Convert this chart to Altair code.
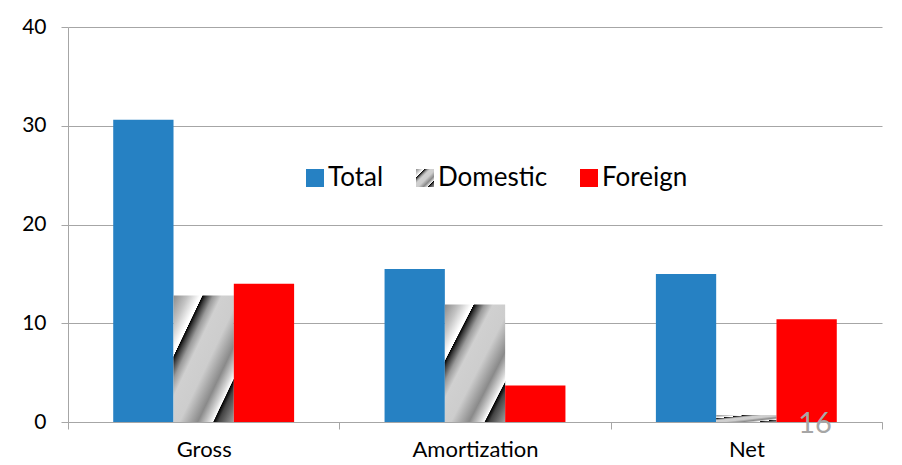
import altair as alt
import pandas as pd

categories = ["Gross", "Amortization", "Net"]
series = ["Total", "Domestic", "Foreign"]
total = [30.6, 15.5, 15.0]
domestic = [12.8, 11.9, 0.7]
foreign = [14.0, 3.7, 10.4]
page_number = ["16"]

rows = []
for i, c in enumerate(categories):
    rows.append({"category": c, "series": "Total", "value": total[i]})
    rows.append({"category": c, "series": "Domestic", "value": domestic[i]})
    rows.append({"category": c, "series": "Foreign", "value": foreign[i]})
df = pd.DataFrame(rows)

FONT = "Lato"
GRID = "#a6a6a6"

stops = [
    (0.00, "#8c8c8c"), (0.12, "#c4c4c4"), (0.22, "#ffffff"), (0.238, "#ffffff"),
    (0.242, "#000000"), (0.27, "#3a3a3a"), (0.33, "#9a9a9a"), (0.40, "#d0d0d0"),
    (0.55, "#cdcdcd"), (0.70, "#8a8a8a"), (0.79, "#d8d8d8"), (0.826, "#ffffff"),
    (0.832, "#000000"), (0.87, "#444444"), (1.00, "#a0a0a0"),
]
grad_expr = "{gradient: 'linear', x1: 0, y1: 0, x2: 1, y2: 1, stops: [" + ", ".join(
    "{offset: %s, color: '%s'}" % (o, c) for o, c in stops) + "]}"

bars = alt.Chart(df).mark_bar().encode(
    x=alt.X("category:N", sort=categories,
            scale=alt.Scale(paddingInner=0, paddingOuter=0),
            axis=alt.Axis(title=None, labelAngle=0, tickBand="extent", tickSize=7,
                          tickColor=GRID, domainColor=GRID, labelFontSize=22,
                          labelFont=FONT, labelColor="#000000", labelPadding=10,
                          grid=False)),
    xOffset=alt.XOffset("series:N", sort=series,
                        scale=alt.Scale(domain=series, paddingInner=0, paddingOuter=0.75)),
    y=alt.Y("value:Q", scale=alt.Scale(domain=[0, 40]),
            axis=alt.Axis(title=None, values=[0, 10, 20, 30, 40], tickSize=7,
                          tickColor=GRID, domainColor=GRID, gridColor=GRID,
                          labelFontSize=21, labelFont=FONT, labelColor="#000000",
                          labelPadding=15)),
    color=alt.Color("series:N", sort=series,
                    scale=alt.Scale(domain=series,
                                    range=["#2681C3", alt.ExprRef(expr=grad_expr), "#FF0000"]),
                    legend=alt.Legend(title=None, orient="none", legendX=234, legendY=138,
                                      direction="horizontal", symbolType="square",
                                      symbolSize=324, symbolStrokeWidth=0,
                                      labelFontSize=26, labelFont=FONT,
                                      labelColor="#000000", labelOffset=0,
                                      columnPadding=28)),
)

num = alt.Chart(pd.DataFrame({"t": page_number})).mark_text(
    fontSize=29, font=FONT, color="#a6a6a6", baseline="middle", align="center"
).encode(text="t:N", x=alt.value(747), y=alt.value(397))

chart = alt.layer(bars, num).properties(
    width=814, height=395,
    autosize=alt.AutoSizeParams(type="none"),
    padding={"left": 60, "top": 19, "right": 12, "bottom": 38},
).configure_view(stroke=None)

chart.save("out.html", embed_options={"renderer": "svg", "actions": False})
